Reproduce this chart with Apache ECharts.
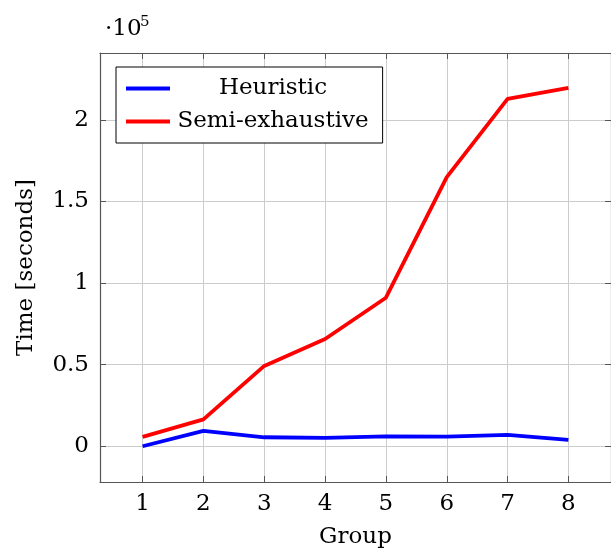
<!DOCTYPE html>
<html>
<head>
<meta charset="utf-8">
<script src="https://cdn.jsdelivr.net/npm/echarts@6/dist/echarts.min.js"></script>
<style>
  html, body { margin: 0; padding: 0; background: #fff; }
  #chart { width: 611px; height: 554px; }
</style>
</head>
<body>
<div id="chart"></div>
<script>
// group numbers on the x axis
var groups = [1, 2, 3, 4, 5, 6, 7, 8];
// time in seconds
var heuristic = [0, 9400, 5500, 5100, 6000, 5900, 7000, 3900];
var semiExhaustive = [5700, 16500, 49200, 65700, 91000, 164900, 212800, 219600];
// tick positions
var yTicks = [0, 50000, 100000, 150000, 200000];
var xTicks = groups;

var FONT = "DejaVu Serif";
var FS = 23;
var AXIS_COL = "#555";

function pairs(xs, ys) {
  var out = [];
  for (var i = 0; i < xs.length; i++) out.push([xs[i], ys[i]]);
  return out;
}

var chart = echarts.init(document.getElementById("chart"), null, { renderer: "canvas" });

var option = {
  animation: false,
  backgroundColor: "#fff",
  textStyle: { fontFamily: FONT },
  grid: { left: 100, top: 53, width: 517, height: 430, show: false },
  graphic: [
    { type: "text", left: 105, top: 18, style: { text: "\u00b710", font: FS + "px " + FONT, fill: "#000" } },
    { type: "text", left: 140, top: 15, style: { text: "5", font: "15px " + FONT, fill: "#000" } }
  ],
  legend: {
    orient: "vertical",
    left: 116, top: 67,
    padding: [10, 14, 10, 10],
    itemGap: 10,
    itemWidth: 44, itemHeight: 4,
    icon: "rect",
    borderColor: "#000", borderWidth: 1,
    backgroundColor: "#fff",
    data: ["Heuristic", "Semi-exhaustive"],
    formatter: function (name) { return "{t|" + name + "}"; },
    textStyle: {
      fontFamily: FONT, fontSize: FS, color: "#000",
      rich: { t: { width: 196, align: "center", fontFamily: FONT, fontSize: FS, color: "#000" } }
    }
  },
  xAxis: [{
    type: "value", min: 0.3, max: 8.7,
    name: "Group", nameLocation: "middle", nameGap: 44,
    nameTextStyle: { fontFamily: FONT, fontSize: FS, color: "#000" },
    axisLine: { show: true, onZero: false, lineStyle: { color: AXIS_COL, width: 1.2 } },
    axisTick: { show: true, inside: true, length: 6, customValues: xTicks, lineStyle: { color: AXIS_COL } },
    axisLabel: { customValues: xTicks, fontFamily: FONT, fontSize: FS, color: "#000", margin: 11 },
    splitLine: { show: true, lineStyle: { color: "#cccccc", width: 1 } }
  }, {
    type: "value", min: 0.3, max: 8.7, position: "top",
    axisLine: { show: true, onZero: false, lineStyle: { color: AXIS_COL, width: 1.2 } },
    axisTick: { show: true, inside: true, length: 6, customValues: xTicks, lineStyle: { color: AXIS_COL } },
    axisLabel: { show: false },
    splitLine: { show: false }
  }],
  yAxis: [{
    type: "value", min: -21900, max: 240900,
    name: "Time [seconds]", nameLocation: "middle", nameGap: 62, nameRotate: 90,
    nameTextStyle: { fontFamily: FONT, fontSize: FS, color: "#000" },
    axisLine: { show: true, onZero: false, lineStyle: { color: AXIS_COL, width: 1.2 } },
    axisTick: { show: true, inside: true, length: 6, customValues: yTicks, lineStyle: { color: AXIS_COL } },
    axisLabel: {
      customValues: yTicks, fontFamily: FONT, fontSize: FS, color: "#000", margin: 11,
      formatter: function (v) { return String(Math.round(v / 10000) / 10); }
    },
    splitLine: { show: true, lineStyle: { color: "#cccccc", width: 1 } }
  }, {
    type: "value", min: -21900, max: 240900, position: "right",
    axisLine: { show: true, onZero: false, lineStyle: { color: AXIS_COL, width: 1.2 } },
    axisTick: { show: true, inside: true, length: 6, customValues: yTicks, lineStyle: { color: AXIS_COL } },
    axisLabel: { show: false },
    splitLine: { show: false }
  }],
  series: [{
    name: "Heuristic", type: "line",
    data: pairs(groups, heuristic),
    showSymbol: false, symbol: "none",
    itemStyle: { color: "#0000ff" },
    lineStyle: { color: "#0000ff", width: 3.8 }
  }, {
    name: "Semi-exhaustive", type: "line",
    data: pairs(groups, semiExhaustive),
    showSymbol: false, symbol: "none",
    itemStyle: { color: "#ff0000" },
    lineStyle: { color: "#ff0000", width: 3.8 }
  }]
};

chart.setOption(option);
</script>
</body>
</html>
